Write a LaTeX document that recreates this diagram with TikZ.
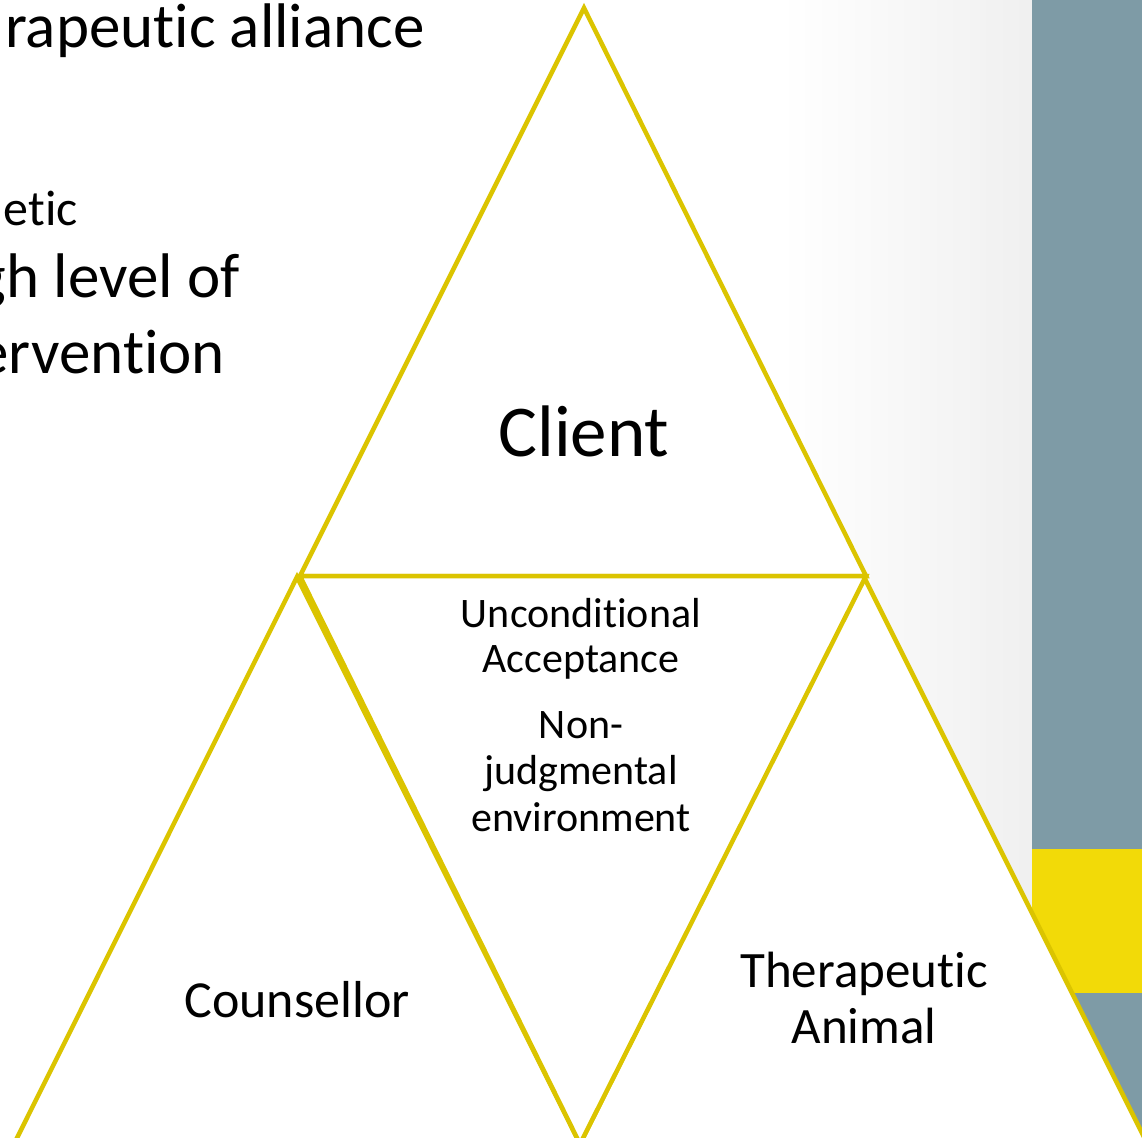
\documentclass[tikz,border=0pt]{standalone}
\usepackage{fontspec}
\setmainfont{Carlito}[Ligatures={NoCommon}]
\definecolor{panel}{HTML}{7E9BA6}
\definecolor{band}{HTML}{F2DA08}
\definecolor{edge}{HTML}{DBC400}
\begin{document}
\begin{tikzpicture}[x=1pt,y=-1pt,
  tri/.style={draw=edge,line width=4.5pt,fill=white,line join=miter},
  txt/.style={inner sep=0pt,text=black},
  big/.style={txt,font=\fontsize{63}{76}\selectfont},
]
\useasboundingbox (0,0) rectangle (1142,1137);
\clip (0,0) rectangle (1142,1137);
% background
\fill[white] (0,0) rectangle (1142,1137);
\shade[left color=white,right color=black!6] (780,0) rectangle (1032,1137);
% side panel
\fill[panel] (1032,0) rectangle (1142,1137);
\fill[band] (1032,849) rectangle (1142,993);
% left (cropped) texts
\node[big,anchor=base east] (t1) at (425,48) {rapeutic alliance};
\node[txt,font=\fontsize{50}{60}\selectfont,anchor=base east] (t2) at (78,225) {etic};
\node[big,anchor=base east] (t3) at (240,297) {gh level of};
\node[big,anchor=base east] (t4) at (225,373) {ervention};
% triangles
\draw[tri] (584,8) -- (866,576) -- (300,576) -- cycle;
\draw[tri] (297,577) -- (580,1144) -- (14,1144) -- cycle;
\draw[tri] (864,577) -- (1148,1145) -- (580,1144) -- cycle;
\draw[tri] (300,576) -- (866,576) -- (580,1144) -- cycle;
% labels
\node[txt,font=\fontsize{73}{88}\selectfont,anchor=base] (client) at (584,456) {Client};
\node[txt,font=\fontsize{42}{45}\selectfont,anchor=base,align=center] (ua) at (581,672) {Unconditional\\Acceptance};
\node[txt,font=\fontsize{42}{46.5}\selectfont,anchor=base,align=center] (nj) at (581,831) {Non-\\judgmental\\environment};
\node[txt,font=\fontsize{52}{60}\selectfont,anchor=base] (couns) at (297,1017) {Counsellor};
\node[txt,font=\fontsize{51}{56}\selectfont,anchor=base,align=center] (anim) at (864,1043) {Therapeutic\\Animal};
\end{tikzpicture}
\end{document}
